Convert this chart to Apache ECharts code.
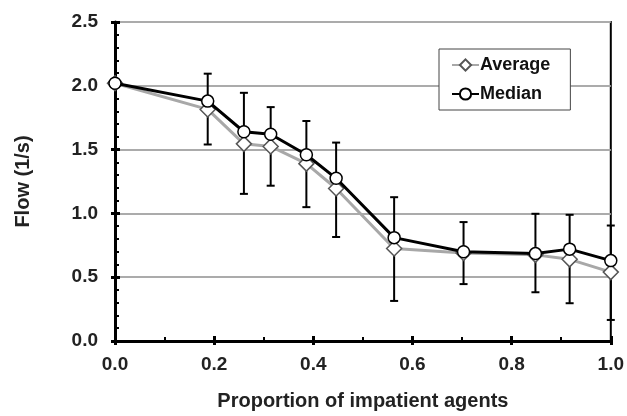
<!DOCTYPE html>
<html>
<head>
<meta charset="utf-8">
<script src="https://cdn.jsdelivr.net/npm/echarts@6/dist/echarts.min.js"></script>
<style>
  html, body { margin: 0; padding: 0; background: #fff; }
  #container { width: 627px; height: 416px; }
</style>
</head>
<body>
<div id="container"></div>
<script>
var proportion = [0, 0.187, 0.26, 0.314, 0.386, 0.446, 0.563, 0.703, 0.848, 0.917, 1.0];
var average = [2.02, 1.815, 1.545, 1.525, 1.39, 1.195, 0.725, 0.69, 0.675, 0.64, 0.54];
var median = [2.02, 1.88, 1.64, 1.62, 1.46, 1.275, 0.81, 0.70, 0.685, 0.72, 0.63];
var errLow = [null, 1.54, 1.153, 1.217, 1.049, 0.815, 0.314, 0.446, 0.382, 0.296, 0.165];
var errHigh = [null, 2.095, 1.945, 1.833, 1.724, 1.555, 1.127, 0.932, 0.997, 0.989, 0.905];

var dom = document.getElementById("container");
var myChart = echarts.init(dom);

function pairs(ys) {
    return proportion.map(function (x, i) { return [x, ys[i]]; });
}
var errData = [];
proportion.forEach(function (x, i) {
    if (errLow[i] != null) errData.push([x, errLow[i], errHigh[i]]);
});

var fam = 'Liberation Sans, Arial, sans-serif';
var labelFont = { color: '#222', fontSize: 19, fontWeight: 'bold', fontFamily: fam };
var nameFont = { color: '#222', fontSize: 20, fontWeight: 'bold', fontFamily: fam };

var option = {
    backgroundColor: '#fff',
    animation: false,
    grid: {
        left: 115, right: 15, top: 22, bottom: 73,
        show: true, borderColor: '#000', borderWidth: 2, backgroundColor: 'transparent'
    },
    legend: {
        orient: 'vertical',
        left: 439, top: 49,
        padding: [7, 20, 7, 12],
        itemGap: 11,
        itemWidth: 27, itemHeight: 14,
        backgroundColor: '#fff',
        borderColor: '#444', borderWidth: 1,
        textStyle: { color: '#111', fontSize: 18, fontWeight: 'bold', fontFamily: fam, padding: [0, 0, 0, -4] },
        data: ['Average', 'Median']
    },
    xAxis: [{
        type: 'value', min: 0, max: 1, interval: 0.2,
        name: 'Proportion of impatient agents',
        nameLocation: 'middle', nameGap: 50,
        nameTextStyle: nameFont,
        axisLine: { show: true, onZero: false, lineStyle: { color: '#000', width: 3 } },
        axisTick: { show: true, inside: true, length: 5, lineStyle: { color: '#000', width: 3 } },
        minorTick: { show: true, splitNumber: 2, length: 4, lineStyle: { color: '#000', width: 2 } },
        axisLabel: Object.assign({ margin: 14, formatter: function (v) { return v.toFixed(1); } }, labelFont),
        splitLine: { show: false }
    }, {
        type: 'value', min: 0, max: 1, interval: 0.2, position: 'bottom',
        axisLine: { show: false, onZero: false },
        axisTick: { show: true, inside: false, length: 4, lineStyle: { color: '#000', width: 3 } },
        axisLabel: { show: false }, splitLine: { show: false }
    }],
    yAxis: [{
        type: 'value', min: 0, max: 2.5, interval: 0.5,
        name: 'Flow (1/s)',
        nameLocation: 'middle', nameGap: 82, nameRotate: 90,
        nameTextStyle: nameFont,
        axisLine: { show: true, onZero: false, lineStyle: { color: '#000', width: 3 } },
        axisTick: { show: true, inside: true, length: 5, lineStyle: { color: '#000', width: 3 } },
        minorTick: { show: true, splitNumber: 5, length: 4, lineStyle: { color: '#000', width: 2 } },
        axisLabel: Object.assign({ margin: 17, formatter: function (v) { return v.toFixed(1); } }, labelFont),
        splitLine: { show: true, lineStyle: { color: '#ababab', width: 2 } }
    }, {
        type: 'value', min: 0, max: 2.5, interval: 0.5, position: 'left',
        axisLine: { show: false, onZero: false },
        axisTick: { show: true, inside: false, length: 4, lineStyle: { color: '#000', width: 3 } },
        axisLabel: { show: false }, splitLine: { show: false }
    }],
    series: [
        {
            name: 'Error',
            type: 'custom',
            z: 1,
            renderItem: function (params, api) {
                var x = api.value(0);
                var lo = api.coord([x, api.value(1)]);
                var hi = api.coord([x, api.value(2)]);
                var w = 4;
                var st = { stroke: '#000', lineWidth: 2 };
                return {
                    type: 'group',
                    children: [
                        { type: 'line', shape: { x1: hi[0], y1: hi[1], x2: lo[0], y2: lo[1] }, style: st },
                        { type: 'line', shape: { x1: hi[0] - w, y1: hi[1], x2: hi[0] + w, y2: hi[1] }, style: st },
                        { type: 'line', shape: { x1: lo[0] - w, y1: lo[1], x2: lo[0] + w, y2: lo[1] }, style: st }
                    ]
                };
            },
            encode: { x: 0, y: [1, 2] },
            data: errData
        },
        {
            name: 'Average',
            type: 'line',
            z: 3,
            data: pairs(average),
            lineStyle: { color: '#a8a8a8', width: 3 },
            itemStyle: { color: '#fff', borderColor: '#555', borderWidth: 1.5 },
            symbol: 'diamond', symbolSize: 15, showAllSymbol: true
        },
        {
            name: 'Median',
            type: 'line',
            z: 4,
            data: pairs(median),
            lineStyle: { color: '#000', width: 3 },
            itemStyle: { color: '#fff', borderColor: '#000', borderWidth: 1.5 },
            symbol: 'circle', symbolSize: 12, showAllSymbol: true
        }
    ]
};

if (option && typeof option === "object") {
    myChart.setOption(option, true);
}
</script>
</body>
</html>
